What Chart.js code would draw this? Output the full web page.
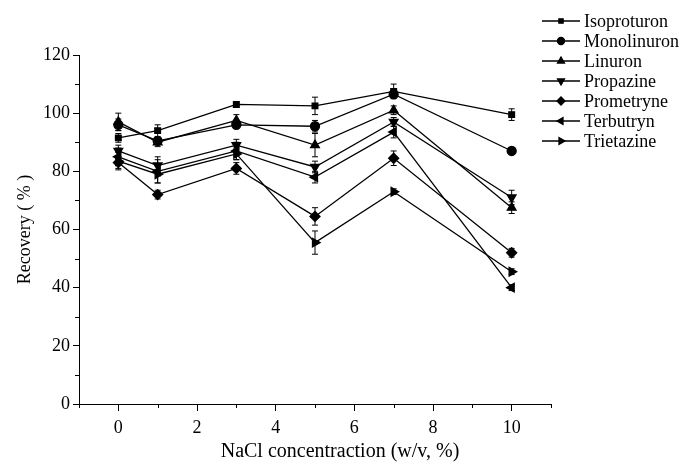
<!DOCTYPE html>
<html>
<head>
<meta charset="utf-8">
<script src="https://cdn.jsdelivr.net/npm/chart.js@4.4.1/dist/chart.umd.min.js"></script>
<style>
  body { margin: 0; background: #fff; }
  #wrap { width: 683px; height: 462px; position: relative; }
</style>
</head>
<body>
<div id="wrap"><canvas id="chart"></canvas></div>
<script>
// NaCl concentration (w/v, %)
const concentrations = [0, 1, 3, 5, 7, 10];
const xTickValues = [0, 2, 4, 6, 8, 10];
const yTickValues = [0, 20, 40, 60, 80, 100, 120];

// Recovery (%) for each compound
const isoproturon = [91.5, 94, 103, 102.5, 107.5, 99.5];
const monolinuron = [96, 90.5, 96, 95.5, 106.5, 87];
const linuron     = [97, 90, 97.5, 89, 101, 67.5];
const propazine   = [87, 82, 89, 81.5, 97, 71];
const prometryne  = [83, 72, 81, 64.5, 84.5, 52];
const terbutryn   = [85, 80, 87, 78, 93.5, 40];
const trietazine  = [83.5, 79, 86, 55.5, 73, 45.5];

// Error bars (+/-)
const isoproturonErr = [1.5, 2, 1, 3, 2.5, 2];
const monolinuronErr = [2, 1, 1, 2, 1, 1];
const linuronErr     = [3, 1.5, 2, 4, 1.5, 2];
const propazineErr   = [2, 3, 2, 2, 1.5, 2.5];
const prometryneErr  = [2, 1.5, 2, 3, 2.5, 1.5];
const terbutrynErr   = [3, 4, 3, 2, 2, 1];
const trietazineErr  = [3, 3, 2, 4, 1, 1];

const names = ['Isoproturon', 'Monolinuron', 'Linuron', 'Propazine', 'Prometryne', 'Terbutryn', 'Trietazine'];
const series = [isoproturon, monolinuron, linuron, propazine, prometryne, terbutryn, trietazine];
const errors = [isoproturonErr, monolinuronErr, linuronErr, propazineErr, prometryneErr, terbutrynErr, trietazineErr];

// Kiểu marker cho từng chất
const markers = [
    { style: 'rect', rot: 0, r: 4 },
    { style: 'circle', rot: 0, r: 4.5 },
    { style: 'triangle', rot: 0, r: 5 },
    { style: 'triangle', rot: 180, r: 5 },
    { style: 'rectRot', rot: 0, r: 5 },
    { style: 'triangle', rot: -90, r: 5 },
    { style: 'triangle', rot: 90, r: 5 }
];

const serif = '"Liberation Serif", "Times New Roman", serif';

// Thanh sai số
const errorBarPlugin = {
    id: 'errorBars',
    afterDatasetsDraw(chart) {
        const ctx = chart.ctx;
        const y = chart.scales.y;
        ctx.save();
        ctx.strokeStyle = '#000';
        ctx.lineWidth = 1;
        chart.data.datasets.forEach((ds, i) => {
            const meta = chart.getDatasetMeta(i);
            meta.data.forEach((pt, j) => {
                const v = series[i][j];
                const e = errors[i][j];
                const top = y.getPixelForValue(v + e);
                const bot = y.getPixelForValue(v - e);
                const x = pt.x;
                ctx.beginPath();
                ctx.moveTo(x, top); ctx.lineTo(x, bot);
                ctx.moveTo(x - 3, top); ctx.lineTo(x + 3, top);
                ctx.moveTo(x - 3, bot); ctx.lineTo(x + 3, bot);
                ctx.stroke();
            });
        });
        ctx.restore();
    }
};

// Vạch chia phụ, tiêu đề trục x và chú giải
const decorPlugin = {
    id: 'decor',
    afterDraw(chart) {
        const ctx = chart.ctx;
        const xs = chart.scales.x;
        const ys = chart.scales.y;
        const area = chart.chartArea;
        ctx.save();
        ctx.strokeStyle = '#000';
        ctx.lineWidth = 1;
        ctx.beginPath();
        for (let v = -1; v <= 11; v += 2) {
            const px = Math.round(xs.getPixelForValue(v)) + 0.5;
            ctx.moveTo(px, area.bottom); ctx.lineTo(px, area.bottom + 4);
        }
        for (let v = 10; v <= 110; v += 20) {
            const py = Math.round(ys.getPixelForValue(v)) + 0.5;
            ctx.moveTo(area.left, py); ctx.lineTo(area.left - 4, py);
        }
        ctx.stroke();

        ctx.fillStyle = '#000';
        ctx.font = '20px ' + serif;
        ctx.textAlign = 'center';
        ctx.textBaseline = 'middle';
        ctx.fillText('NaCl concentraction (w/v, %)', 340, 452);

        ctx.textAlign = 'left';
        ctx.font = '18px ' + serif;
        ctx.lineWidth = 1.3;
        names.forEach((name, i) => {
            const ly = 21 + i * 20;
            ctx.beginPath();
            ctx.moveTo(542, ly); ctx.lineTo(580, ly);
            ctx.stroke();
            Chart.helpers.drawPoint(ctx, {
                pointStyle: markers[i].style,
                rotation: markers[i].rot,
                radius: markers[i].r - 1,
                borderWidth: 1
            }, 561, ly);
            ctx.fill();
            ctx.fillText(name, 584, ly + 1);
        });
        ctx.restore();
    }
};

const datasets = series.map((vals, i) => ({
    label: names[i],
    data: concentrations.map((c, j) => ({ x: c, y: vals[j] })),
    borderColor: '#000',
    borderWidth: 1.3,
    backgroundColor: '#000',
    pointBackgroundColor: '#000',
    pointBorderColor: '#000',
    pointStyle: markers[i].style,
    rotation: markers[i].rot,
    pointRadius: markers[i].r,
    pointHoverRadius: markers[i].r,
    tension: 0
}));

const chart = new Chart(document.getElementById('chart'), {
    type: 'line',
    data: { datasets: datasets },
    options: {
        responsive: true,
        maintainAspectRatio: false,
        animation: false,
        layout: { padding: { left: 0, right: 132, top: 55, bottom: 0 } },
        plugins: {
            legend: { display: false },
            tooltip: { enabled: false }
        },
        scales: {
            x: {
                type: 'linear',
                min: -1,
                max: 11,
                afterFit: s => { s.height = 58; },
                afterBuildTicks: s => { s.ticks = xTickValues.map(v => ({ value: v })); },
                border: { color: '#000', width: 1 },
                grid: { drawOnChartArea: false, drawTicks: true, tickLength: 7, color: '#000' },
                ticks: {
                    color: '#000',
                    padding: 6,
                    maxRotation: 0,
                    font: { family: serif, size: 18 }
                }
            },
            y: {
                min: 0,
                max: 120,
                afterFit: s => { s.width = 79; },
                afterBuildTicks: s => { s.ticks = yTickValues.map(v => ({ value: v })); },
                border: { color: '#000', width: 1 },
                grid: { drawOnChartArea: false, drawTicks: true, tickLength: 6, color: '#000' },
                ticks: {
                    color: '#000',
                    padding: 3,
                    font: { family: serif, size: 18 }
                },
                title: {
                    display: true,
                    text: 'Recovery ( % )',
                    color: '#000',
                    padding: { top: 14, bottom: 0 },
                    font: { family: serif, size: 18 }
                }
            }
        }
    },
    plugins: [errorBarPlugin, decorPlugin]
});
</script>
</body>
</html>
